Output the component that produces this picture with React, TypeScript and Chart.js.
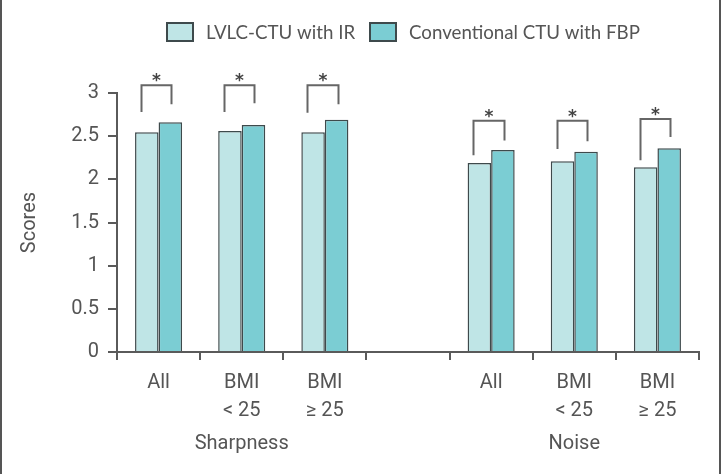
import React, { useEffect, useRef } from "react";
import { Chart, registerables } from "chart.js";

Chart.register(...registerables);

const categories: (string | string[])[] = [
  ["All"],
  ["BMI", "< 25"],
  ["BMI", "≥ 25"],
  "",
  ["All"],
  ["BMI", "< 25"],
  ["BMI", "≥ 25"],
];
const seriesNames = ["LVLC-CTU with IR", "Conventional CTU with FBP"];
const lvlcValues: (number | null)[] = [2.545, 2.56, 2.545, null, 2.19, 2.21, 2.14];
const convValues: (number | null)[] = [2.66, 2.63, 2.69, null, 2.34, 2.32, 2.36];
// significance brackets (data units)
const bracketTop: (number | null)[] = [3.09, 3.09, 3.09, null, 2.68, 2.68, 2.7];
const bracketLeftEnd: (number | null)[] = [2.78, 2.78, 2.77, null, 2.28, 2.35, 2.22];
const bracketRightEnd: (number | null)[] = [2.87, 2.88, 2.87, null, 2.45, 2.44, 2.49];
const groupLabels = ["Sharpness", "Noise"];
const groupCenterIndex = [1, 5];
const yTicks = [0, 0.5, 1, 1.5, 2, 2.5, 3];

const LIGHT = "#bfe5e6";
const DARK = "#7bcdd3";
const EDGE = "#3e4a4c";
const TEXT = "#555555";
const AXIS = "#5a5a5a";
const COND = "Roboto, 'DejaVu Sans', sans-serif";

const decorPlugin = {
  id: "decor",
  afterDraw(chart: any) {
    const ctx = chart.ctx as CanvasRenderingContext2D;
    const W = chart.width;
    const H = chart.height;
    const yScale = chart.scales.y;
    const xScale = chart.scales.x;
    ctx.save();
    // side borders
    ctx.strokeStyle = "#555";
    ctx.lineWidth = 2;
    ctx.beginPath();
    ctx.moveTo(1, 0);
    ctx.lineTo(1, H);
    ctx.moveTo(W - 2, 0);
    ctx.lineTo(W - 2, H);
    ctx.stroke();

    // legend
    const fam = "'Lato', 'Open Sans', sans-serif";
    ctx.font = `100px ${fam}`;
    const w100 = ctx.measureText(seriesNames[1]).width;
    const fs = (231 / w100) * 100;
    ctx.font = `${fs}px ${fam}`;
    ctx.textBaseline = "middle";
    ctx.textAlign = "left";
    const legendY = 32;
    const boxW = 26;
    const boxH = 18;
    const items = [
      { x: 167, fill: LIGHT, label: seriesNames[0] },
      { x: 370, fill: DARK, label: seriesNames[1] },
    ];
    for (const it of items) {
      ctx.fillStyle = it.fill;
      ctx.fillRect(it.x, legendY - boxH / 2, boxW, boxH);
      ctx.strokeStyle = EDGE;
      ctx.lineWidth = 2;
      ctx.strokeRect(it.x, legendY - boxH / 2, boxW, boxH);
      ctx.fillStyle = TEXT;
      ctx.fillText(it.label, it.x + boxW + 13, legendY + 1);
    }

    // brackets
    const m0 = chart.getDatasetMeta(0);
    const m1 = chart.getDatasetMeta(1);
    ctx.strokeStyle = "#666";
    ctx.lineWidth = 2;
    for (let i = 0; i < categories.length; i++) {
      const t = bracketTop[i];
      const le = bracketLeftEnd[i];
      const re = bracketRightEnd[i];
      if (t == null || le == null || re == null) continue;
      const b0 = m0.data[i];
      const b1 = m1.data[i];
      if (!b0 || !b1) continue;
      const xl = Math.round(b0.x - 6) + 0.5;
      const xr = Math.round(b1.x + 1) + 0.5;
      const yt = yScale.getPixelForValue(t);
      ctx.beginPath();
      ctx.moveTo(xl, yScale.getPixelForValue(le));
      ctx.lineTo(xl, yt);
      ctx.lineTo(xr, yt);
      ctx.lineTo(xr, yScale.getPixelForValue(re));
      ctx.stroke();
      ctx.fillStyle = "#444";
      ctx.font = `bold 17px 'DejaVu Sans', sans-serif`;
      ctx.textAlign = "center";
      ctx.textBaseline = "alphabetic";
      ctx.fillText("*", (xl + xr) / 2, yt + 1);
    }

    // group labels
    ctx.fillStyle = TEXT;
    ctx.font = `20px ${COND}`;
    ctx.textAlign = "center";
    ctx.textBaseline = "middle";
    groupLabels.forEach((g, k) => {
      const x = xScale.getPixelForValue(groupCenterIndex[k]);
      ctx.fillText(g, x, 444);
    });
    ctx.restore();
  },
};

export default function App() {
  const ref = useRef<HTMLCanvasElement | null>(null);
  useEffect(() => {
    if (!ref.current) return;
    const chart = new Chart(ref.current, {
      type: "bar",
      data: {
        labels: categories as any,
        datasets: [
          {
            label: seriesNames[0],
            data: lvlcValues,
            backgroundColor: LIGHT,
            borderColor: EDGE,
            borderWidth: 1.5,
          },
          {
            label: seriesNames[1],
            data: convValues,
            backgroundColor: DARK,
            borderColor: EDGE,
            borderWidth: 1.5,
          },
        ],
      },
      options: {
        animation: false,
        responsive: true,
        maintainAspectRatio: false,
        layout: { padding: { top: 93, right: 23, left: 0, bottom: 0 } },
        datasets: { bar: { barPercentage: 1, categoryPercentage: 0.566 } },
        plugins: {
          legend: { display: false },
          tooltip: { enabled: false },
        },
        scales: {
          x: {
            grid: {
              offset: true,
              drawOnChartArea: false,
              tickLength: 8,
              color: AXIS,
              lineWidth: 2,
            },
            border: { color: AXIS, width: 2 },
            ticks: {
              color: TEXT,
              font: { family: COND, size: 20, lineHeight: 1.4 },
              padding: 9,
              maxRotation: 0,
              autoSkip: false,
            },
            afterFit(scale: any) {
              scale.height = 122;
            },
          },
          y: {
            min: 0,
            max: 3,
            afterBuildTicks(scale: any) {
              scale.ticks = yTicks.map((v) => ({ value: v }));
            },
            grid: {
              drawOnChartArea: false,
              tickLength: 9,
              color: AXIS,
              lineWidth: 2,
            },
            border: { color: AXIS, width: 2 },
            ticks: {
              color: TEXT,
              font: { family: COND, size: 20 },
              padding: 9,
              callback: (v: any) => String(v),
            },
            title: {
              display: true,
              text: "Scores",
              color: TEXT,
              font: { family: COND, size: 20 },
              padding: { top: 18, bottom: 0 },
            },
            afterFit(scale: any) {
              scale.width = 117;
            },
          },
        },
      },
      plugins: [decorPlugin],
    });
    return () => chart.destroy();
  }, []);
  return (
    <div style={{ position: "fixed", left: 0, top: 0, width: 722, height: 474, background: "#fff" }}>
      <canvas ref={ref} />
    </div>
  );
}
